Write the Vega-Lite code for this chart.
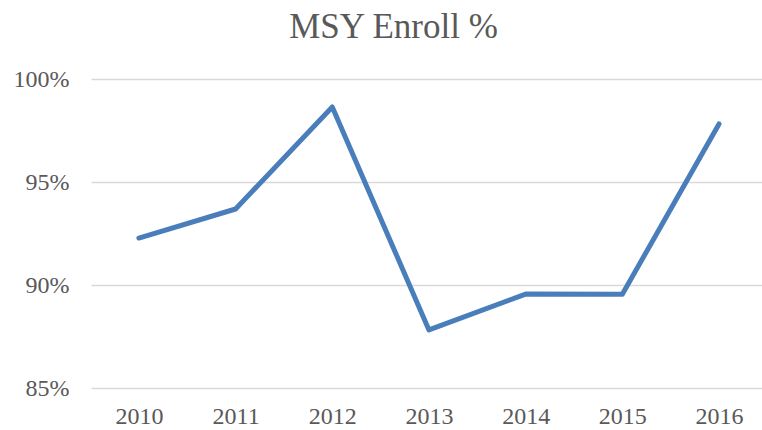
{
  "$schema": "https://vega.github.io/schema/vega-lite/v6.json",
  "autosize": "none",
  "width": 671,
  "height": 309,
  "padding": {"left": 91, "top": 79, "right": 0, "bottom": 42},
  "background": "white",
  "title": {
    "text": "MSY Enroll %",
    "font": "Liberation Serif",
    "fontSize": 35,
    "fontWeight": "normal",
    "color": "#595959",
    "anchor": "middle",
    "dx": -33,
    "baseline": "alphabetic",
    "offset": -6
  },
  "data": {
    "values": [
      {"year": "2010", "pct": 0.9228},
      {"year": "2011", "pct": 0.9369},
      {"year": "2012", "pct": 0.9864},
      {"year": "2013", "pct": 0.8782},
      {"year": "2014", "pct": 0.8956},
      {"year": "2015", "pct": 0.8955},
      {"year": "2016", "pct": 0.9782}
    ]
  },
  "mark": {"type": "line", "color": "#4a7ebb", "strokeWidth": 5, "strokeCap": "round", "strokeJoin": "round"},
  "encoding": {
    "x": {
      "field": "year",
      "type": "ordinal",
      "scale": {"type": "point", "padding": 0.47, "align": 0.527},
      "axis": {
        "title": null,
        "labelAngle": 0,
        "domain": false,
        "ticks": false,
        "grid": false,
        "labelFont": "Liberation Serif",
        "labelFontSize": 24,
        "labelColor": "#595959",
        "labelPadding": 16
      }
    },
    "y": {
      "field": "pct",
      "type": "quantitative",
      "scale": {"domain": [0.85, 1.0], "nice": false, "zero": false},
      "axis": {
        "title": null,
        "format": ".0%",
        "values": [0.85, 0.9, 0.95, 1.0],
        "domain": false,
        "ticks": false,
        "grid": true,
        "gridColor": "#d9d9d9",
        "gridWidth": 1.5,
        "labelFont": "Liberation Serif",
        "labelFontSize": 24,
        "labelColor": "#595959",
        "labelPadding": 22
      }
    }
  },
  "config": {"view": {"stroke": null}}
}
